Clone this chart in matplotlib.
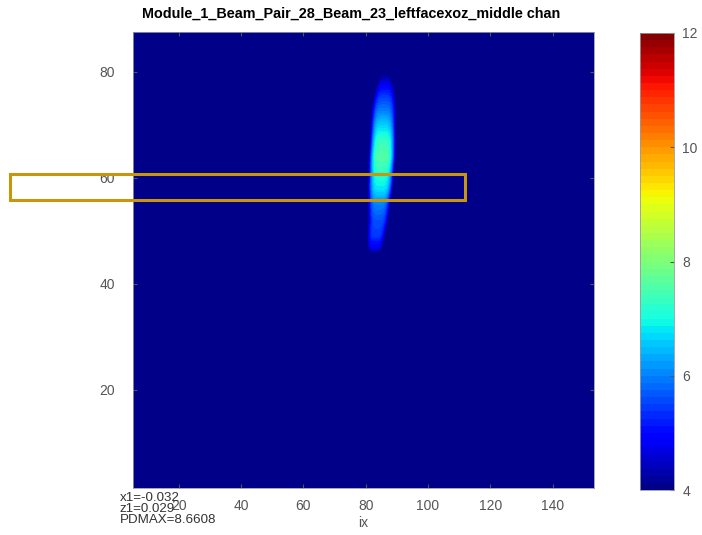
import numpy as np
import matplotlib
matplotlib.use("Agg")
import matplotlib.pyplot as plt
from matplotlib.patches import Rectangle

plt.rcParams["font.family"] = ["Liberation Sans", "DejaVu Sans"]

title = "Module_1_Beam_Pair_28_Beam_23_leftfacexoz_middle chan"

# ridge profile of the beam spot (per iz row)
prof_iz = [45, 47, 49, 52, 55, 58, 61, 64, 67, 70, 73, 75, 77, 79, 80]
prof_peak = [3.5, 4.8, 5.4, 5.6, 6.0, 6.8, 7.2, 7.6, 7.3, 6.6, 5.9, 5.5, 5.0, 4.3, 3.5]
prof_center = [82.8, 83.0, 83.3, 84.0, 84.3, 84.7, 85.0, 85.3, 85.5, 85.6, 85.8, 86.0, 86.2, 86.3, 86.4]
prof_halfwidth = [1.9, 2.3, 2.7, 3.1, 3.5, 3.9, 4.1, 4.2, 4.1, 4.0, 3.8, 3.4, 2.7, 1.6, 1.0]

x_ticks = [20, 40, 60, 80, 100, 120, 140]
y_ticks = [20, 40, 60, 80]
cb_ticks = [4, 6, 8, 10, 12]
info_lines = ["x1=-0.032", "z1=0.029", "PDMAX=8.6608"]

ix = np.linspace(1, 155, 700)
iz = np.linspace(1, 88, 450)
IX, IZ = np.meshgrid(ix, iz)
amp = np.interp(iz, prof_iz, prof_peak, left=0, right=0)[:, None]
cen = np.interp(iz, prof_iz, prof_center)[:, None]
hw = np.interp(iz, prof_iz, prof_halfwidth)[:, None]
s = hw / (2 * np.log(np.maximum(amp / 4, 1.01))) ** 0.25
field = amp * np.exp(-0.5 * np.abs((IX - cen) / s) ** 4)
field = np.clip(field, 4, 12)

fig = plt.figure(figsize=(7.02, 5.35), dpi=100)
ax = fig.add_axes([133 / 702, 1 - 488 / 535, 461 / 702, 456 / 535])
cax = fig.add_axes([640 / 702, 1 - 490 / 535, 34 / 702, 457 / 535])

levels = np.linspace(4, 12, 65)
cs = ax.contourf(IX, IZ, field, levels=levels, cmap="jet", vmin=4, vmax=12)
ax.set_xlim(5.3, 153.3)
ax.set_ylim(1.5, 87.5)
ax.set_xticks(x_ticks)
ax.set_yticks(y_ticks)
ax.tick_params(direction="in", top=True, right=True, colors="#555555",
               labelsize=10, length=3)
ax.tick_params(axis="x", pad=8)
ax.tick_params(axis="y", pad=13)
for sp in ax.spines.values():
    sp.set_color("#999999")
    sp.set_linewidth(0.6)
ax.set_xlabel("ix", fontsize=10, color="#555555", labelpad=2)

fig.text(0.5, 1 - 14 / 535, title, fontsize=10.4, fontweight="bold",
         ha="center", va="center")

cb = fig.colorbar(cs, cax=cax, ticks=cb_ticks)
cb.ax.tick_params(direction="in", colors="#555555", labelsize=10, length=3, pad=6)
cb.outline.set_edgecolor("#999999")
cb.outline.set_linewidth(0.6)

for i, line in enumerate(info_lines):
    fig.text(120 / 702, 1 - (498 + i * 11) / 535, line, fontsize=9.6,
             color="#333333", va="center", ha="left")

# highlight box drawn over the figure
fig.patches.append(Rectangle((10 / 702, 1 - 200 / 535), 455 / 702, 26 / 535,
                             transform=fig.transFigure, fill=False,
                             edgecolor="#C8960C", linewidth=2.2))

fig.savefig("out.png", dpi=100)
